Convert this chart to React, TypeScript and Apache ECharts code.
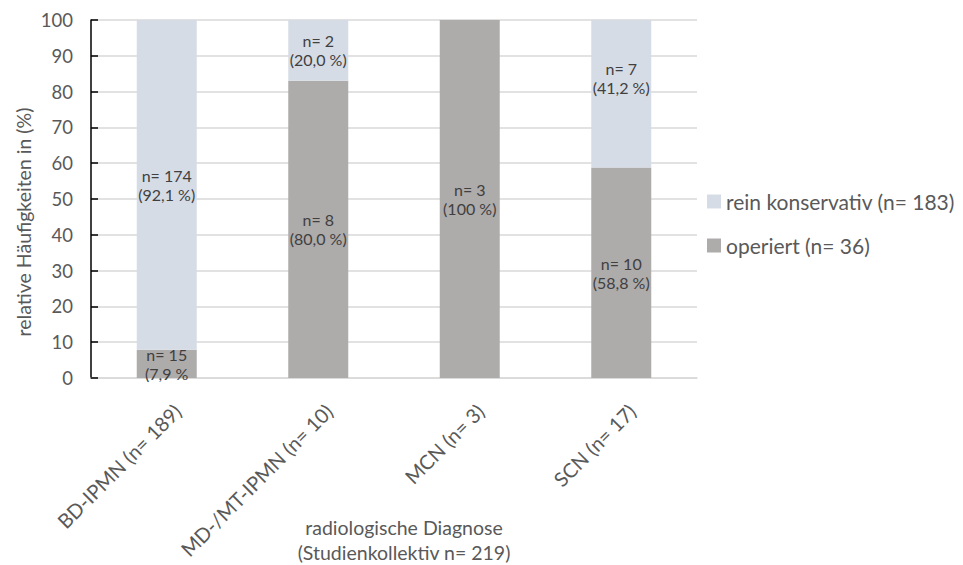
import React, { useEffect, useRef } from "react";
import * as echarts from "echarts";

const categories = ["BD-IPMN (n= 189)", "MD-/MT-IPMN (n= 10)", "MCN (n= 3)", "SCN (n= 17)"];
const operiertValues = [7.9, 83, 100, 58.8];
const konservativValues = [92.1, 17, 0, 41.2];
const operiertLabels = ["n= 15\n(7,9 %", "n= 8\n(80,0 %)", "n= 3\n(100 %)", "n= 10\n(58,8 %)"];
const konservativLabels = ["n= 174\n(92,1 %)", "n= 2\n(20,0 %)", "", "n= 7\n(41,2 %)"];
const seriesNames = ["operiert (n= 36)", "rein konservativ (n= 183)"];
const yAxisTitle = "relative Häufigkeiten in (%)";
const xAxisTitle = ["radiologische Diagnose", "(Studienkollektiv n= 219)"];

const FONT = "Lato";
const TEXT = "#595959";

export default function App() {
  const ref = useRef<HTMLDivElement>(null);
  useEffect(() => {
    if (!ref.current) return;
    const chart = echarts.init(ref.current, undefined, { renderer: "svg" });
    const labelStyle = {
      show: true,
      position: "inside",
      color: "#404040",
      fontFamily: FONT,
      fontSize: 16,
      lineHeight: 19,
    };
    chart.setOption({
      animation: false,
      backgroundColor: "#ffffff",
      textStyle: { fontFamily: FONT },
      grid: {
        left: 91,
        right: 266,
        top: 20,
        bottom: 187,
        containLabel: false,
        outerBoundsMode: "none",
      },
      legend: {
        orient: "vertical",
        left: 702,
        top: 186,
        itemWidth: 14,
        itemHeight: 14,
        itemGap: 23,
        icon: "rect",
        data: [seriesNames[1], seriesNames[0]],
        textStyle: { fontFamily: FONT, fontSize: 21, color: TEXT },
      },
      xAxis: {
        type: "category",
        data: categories,
        axisLine: { show: true, lineStyle: { color: "#D9D9D9", width: 1.5 } },
        axisTick: { show: false },
        axisLabel: {
          rotate: 45,
          margin: 19,
          verticalAlign: "top",
          padding: [5, 0, 0, 0],
          color: TEXT,
          fontFamily: FONT,
          fontSize: 20,
          interval: 0,
        },
      },
      yAxis: {
        type: "value",
        min: 0,
        max: 100,
        interval: 10,
        axisLine: { show: true, lineStyle: { color: "#000000", width: 1.5 } },
        axisTick: { show: true, inside: true, length: 7, lineStyle: { color: "#000000", width: 1.5 } },
        splitLine: { show: true, lineStyle: { color: "#D9D9D9", width: 1.5 } },
        axisLabel: { color: TEXT, fontFamily: FONT, fontSize: 18.5, margin: 18 },
      },
      graphic: [
        {
          type: "text",
          x: 23.5,
          y: 222,
          rotation: Math.PI / 2,
          style: {
            text: yAxisTitle,
            fill: TEXT,
            font: `19.5px ${FONT}`,
            align: "center",
            verticalAlign: "middle",
          },
        },
        {
          type: "text",
          x: 404,
          y: 527,
          style: {
            text: xAxisTitle[0],
            fill: TEXT,
            font: `19.5px ${FONT}`,
            align: "center",
            verticalAlign: "middle",
          },
        },
        {
          type: "text",
          x: 404,
          y: 552,
          style: {
            text: xAxisTitle[1],
            fill: TEXT,
            font: `19.5px ${FONT}`,
            align: "center",
            verticalAlign: "middle",
          },
        },
      ],
      series: [
        {
          name: seriesNames[0],
          type: "bar",
          stack: "total",
          barWidth: 60,
          itemStyle: { color: "#AEABAB" },
          label: {
            ...labelStyle,
            formatter: (p: any) => operiertLabels[p.dataIndex],
          },
          data: operiertValues,
        },
        {
          name: seriesNames[1],
          type: "bar",
          stack: "total",
          barWidth: 60,
          itemStyle: { color: "#D6DCE5" },
          label: {
            ...labelStyle,
            formatter: (p: any) => konservativLabels[p.dataIndex],
          },
          data: konservativValues.map((v, i) =>
            i === 3 ? { value: v, label: { offset: [0, -16] } } : v
          ),
        },
      ],
    });
    return () => chart.dispose();
  }, []);
  return (
    <div
      ref={ref}
      style={{ position: "absolute", left: 0, top: 0, width: 963, height: 565, overflow: "hidden" }}
    />
  );
}
